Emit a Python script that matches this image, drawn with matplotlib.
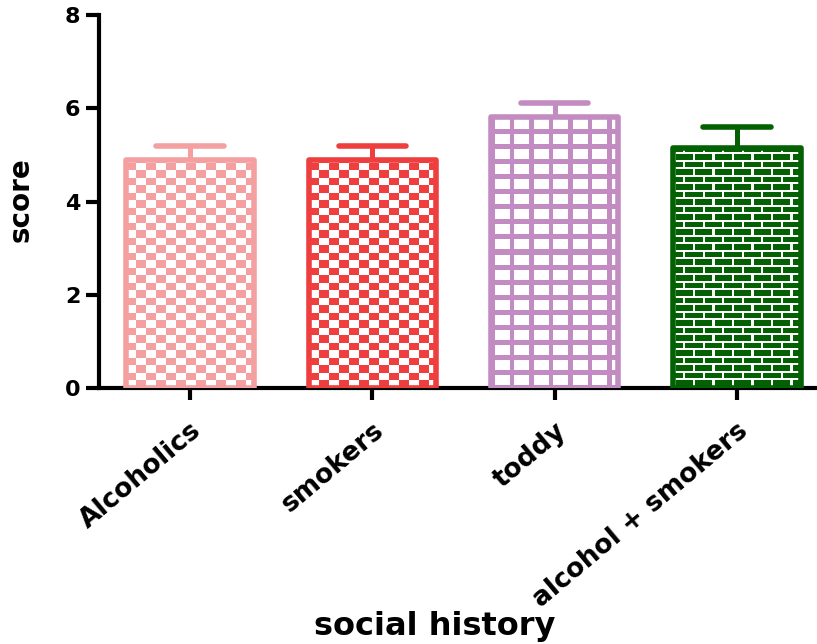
import numpy as np
import matplotlib
matplotlib.use('Agg')
import matplotlib.pyplot as plt
from matplotlib.transforms import ScaledTranslation

plt.rcParams['font.family'] = ['DejaVu Sans']
plt.rcParams['font.weight'] = 'bold'

GROUPS = ['Alcoholics', 'smokers', 'toddy', 'alcohol + smokers']
MEANS = [4.89, 4.89, 5.82, 5.15]
SEM = [0.30, 0.30, 0.30, 0.45]
COLORS = ['#F4A0A0', '#EE3E3E', '#C28CC2', '#036003']
PATTERNS = ['checker', 'checker', 'grid', 'brick']

BAR_WIDTH = 0.70
CAP_HALF = 0.185


def pattern_mask(kind, w, h):
    # True where the fill colour is painted, one element per screen pixel
    yy, xx = np.indices((h, w)).astype(float)
    yy = yy[::-1]  # count rows from the bar's base
    if kind == 'checker':
        return ((xx // 10 + yy // 7.5) % 2).astype(bool)
    if kind == 'grid':
        return ((xx + 1) % 19.5 < 4.5) | ((yy + 2) % 15 < 4.5)
    row = yy // 7.5
    mortar_h = yy % 7.5 < 2
    mortar_v = (xx + 9.75 * (row % 2)) % 19.5 < 2.2
    return ~(mortar_h | mortar_v)


def main():
    fig = plt.figure(figsize=(8.17, 6.44), dpi=100)
    ax = fig.add_axes([99 / 817, 1 - 388 / 644, 729 / 817, 373 / 644])
    ax.set_xlim(-0.5, 3.5)
    ax.set_ylim(0, 8)

    x = np.arange(len(GROUPS))
    bars = ax.bar(x, MEANS, width=BAR_WIDTH, facecolor='none',
                  edgecolor=COLORS, linewidth=4.0, zorder=3)
    fig.canvas.draw()

    for bar, color, kind in zip(bars, COLORS, PATTERNS):
        bar.set_joinstyle('round')
        x0, y0 = bar.get_x(), bar.get_y()
        x1, y1 = x0 + bar.get_width(), y0 + bar.get_height()
        (px0, py0), (px1, py1) = ax.transData.transform([(x0, y0), (x1, y1)])
        w, h = int(round(px1 - px0)), int(round(py1 - py0))
        rgba = np.ones((h, w, 4))
        rgba[pattern_mask(kind, w, h), :3] = matplotlib.colors.to_rgb(color)
        im = ax.imshow(rgba, extent=(x0, x1, y0, y1), origin='upper',
                       interpolation='nearest', aspect='auto', zorder=2)
        im.set_clip_path(bar)

    # upper error bars with round-ended caps
    for xi, m, e, color in zip(x, MEANS, SEM, COLORS):
        ax.vlines(xi, m, m + e, color=color, linewidth=3.6, zorder=3)
        cap = ax.hlines(m + e, xi - CAP_HALF, xi + CAP_HALF, color=color,
                        linewidth=4.0, zorder=3)
        cap.set_capstyle('round')

    ax.set_xlim(-0.5, 3.5)
    ax.set_ylim(0, 8)

    for side in ['top', 'right']:
        ax.spines[side].set_visible(False)
    for side in ['left', 'bottom']:
        ax.spines[side].set_linewidth(3.0)

    ax.set_yticks([0, 2, 4, 6, 8])
    ax.set_yticklabels(['0', '2', '4', '6', '8'], fontsize=16,
                       fontweight='bold')
    ax.set_xticks(x)
    ax.set_xticklabels(GROUPS, rotation=40, ha='right', va='top',
                       rotation_mode='anchor', fontsize=19,
                       fontweight='bold')
    shift = ScaledTranslation(-0.09, 0, fig.dpi_scale_trans)
    for label in ax.get_xticklabels():
        label.set_transform(label.get_transform() + shift)
    ax.tick_params(axis='y', length=9.5, width=3.0, pad=4)
    ax.tick_params(axis='x', length=8.5, width=3.0, pad=13)

    ax.set_ylabel('score', fontsize=20, fontweight='bold')
    ax.yaxis.set_label_coords(-0.088, 0.504)
    ax.set_xlabel('social history', fontsize=23, fontweight='bold')
    ax.xaxis.set_label_coords(0.46, -0.598)

    fig.savefig('out.png', dpi=100)
    plt.close(fig)


if __name__ == '__main__':
    main()
